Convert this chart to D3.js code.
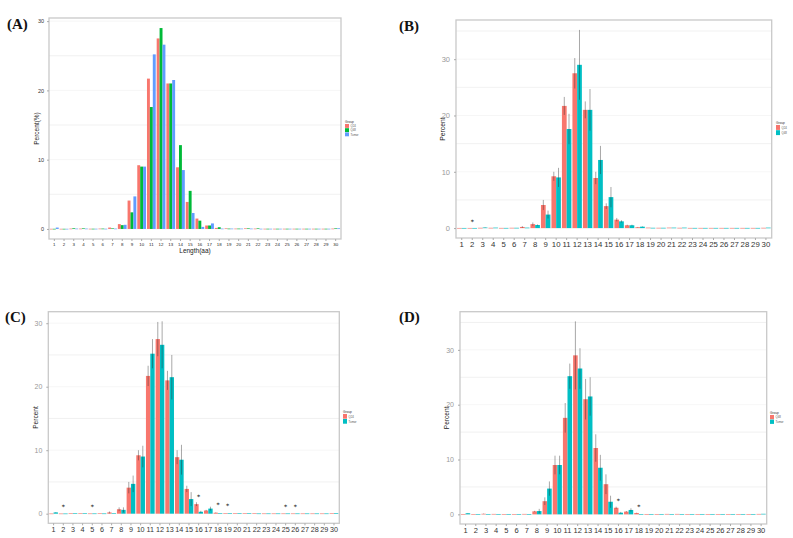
<!DOCTYPE html>
<html><head><meta charset="utf-8">
<script src="https://cdn.jsdelivr.net/npm/d3@7"></script>
<style>body{margin:0;background:#fff}svg{display:block}</style>
</head><body>
<script>
const categories = ["1","2","3","4","5","6","7","8","9","10","11","12","13","14","15","16","17","18","19","20","21","22","23","24","25","26","27","28","29","30"];
const yTicks = [0,10,20,30];
const minorTicks = [5,15,25,35];

const q24 = [0.02,0.02,0.05,0.05,0.03,0.05,0.2,0.7,4.1,9.2,21.7,27.5,21.0,8.9,3.9,1.5,0.5,0.15,0.08,0.05,0.08,0.05,0.03,0.03,0.03,0.03,0.03,0.03,0.03,0.05];
const q48 = [0.02,0.02,0.1,0.08,0.03,0.05,0.08,0.55,2.4,9.0,17.6,29.0,21.0,12.1,5.5,1.2,0.5,0.25,0.05,0.05,0.08,0.08,0.03,0.03,0.03,0.03,0.03,0.03,0.03,0.08];
const tumor = [0.2,0.02,0.05,0.05,0.03,0.03,0.05,0.6,4.7,9.0,25.2,26.6,21.5,8.5,2.3,0.3,0.8,0.05,0.05,0.05,0.05,0.03,0.03,0.03,0.03,0.03,0.03,0.03,0.03,0.1];

const q24sd = [0,0,0,0,0,0,0.15,0.3,0.9,0.8,1.6,2.7,1.5,1.1,0.5,0.3,0.1,0.05,0,0,0,0,0,0,0,0,0,0,0,0];
const q48sd = [0,0,0.05,0,0,0,0,0.1,0.7,1.7,2.7,6.2,3.7,2.5,1.8,0.2,0.1,0.05,0,0,0,0,0,0,0,0,0,0,0,0];
const tumorsd = [0.05,0,0,0,0,0,0,0.4,1.3,1.7,2.3,3.7,3.5,2.35,1.1,0.15,0.3,0,0,0,0,0,0,0,0,0,0,0,0,0];

const starsB = [{cat:"2", y:1.2}];
const starsC = [{cat:"2", y:1.2},{cat:"5", y:1.2},{cat:"16", y:2.8},{cat:"18", y:1.45},{cat:"19", y:1.3},{cat:"25", y:1.2},{cat:"26", y:1.2}];
const starsD = [{cat:"16", y:2.6},{cat:"18", y:1.5}];

const RED="#F8766D", GREEN="#00BA38", BLUE="#619CFF", TEAL="#00BFC4";

const svg = d3.select("body").append("svg").attr("width",793).attr("height",538);

function panel(o){
  const g = svg.append("g");
  const keys = o.series.map(s=>s.name);
  let maxV = 0;
  o.series.forEach(s=>s.values.forEach((v,i)=>{ maxV=Math.max(maxV, v + (s.sd? s.sd[i]:0)); }));
  const pad = maxV*0.05;
  const y = d3.scaleLinear().domain([-pad, maxV+pad]).range([o.y1, o.y0]);
  const unitW = (o.x1-o.x0)/(categories.length-1+1.2);
  const x = d3.scaleBand().domain(categories)
     .range([o.x0+unitW*0.1, o.x1-unitW*0.1]).paddingInner(0.1).paddingOuter(0);
  const xs = d3.scaleBand().domain(keys).range([0, x.bandwidth()]);
  g.selectAll(".mi").data(minorTicks.filter(t=>t<maxV+pad)).join("line")
    .attr("x1",o.x0).attr("x2",o.x1).attr("y1",d=>y(d)).attr("y2",d=>y(d))
    .attr("stroke","#eeeeee").attr("stroke-width",0.8);
  g.selectAll(".ma").data(yTicks).join("line")
    .attr("x1",o.x0).attr("x2",o.x1).attr("y1",d=>y(d)).attr("y2",d=>y(d))
    .attr("stroke","#f4f4f4").attr("stroke-width",0.8);
  o.series.forEach(s=>{
    g.append("g").selectAll("rect").data(s.values.map((v,i)=>({c:categories[i],v}))).join("rect")
      .attr("x",d=>x(d.c)+xs(s.name)).attr("width",xs.bandwidth())
      .attr("y",d=>y(d.v)).attr("height",d=>Math.max(0.6,y(0)-y(d.v)))
      .attr("fill",s.color);
  });
  o.series.forEach(s=>{
    if(!s.sd) return;
    g.append("g").selectAll("line").data(s.values.map((v,i)=>({c:categories[i],v,e:s.sd[i]})).filter(d=>d.e>0)).join("line")
      .attr("x1",d=>x(d.c)+xs(s.name)+xs.bandwidth()/2).attr("x2",d=>x(d.c)+xs(s.name)+xs.bandwidth()/2)
      .attr("y1",d=>y(d.v-d.e)).attr("y2",d=>y(d.v+d.e))
      .attr("stroke","rgba(40,40,40,0.45)").attr("stroke-width",0.9);
  });
  if(o.stars){
    g.selectAll(".st").data(o.stars).join("text")
      .attr("x",d=>x(d.cat)+x.bandwidth()/2).attr("y",d=>y(d.y)+2.8)
      .attr("text-anchor","middle").attr("font-size",6).attr("font-weight","bold").attr("font-family","DejaVu Sans")
      .attr("fill","#333").text("*");
  }
  g.append("rect").attr("x",o.x0).attr("y",o.y0).attr("width",o.x1-o.x0).attr("height",o.y1-o.y0)
    .attr("fill","none").attr("stroke","#c9c9c9").attr("stroke-width",1.3);
  const xa = g.append("g").attr("transform",`translate(0,${o.y1})`)
    .call(d3.axisBottom(x).tickSize(2).tickPadding(1.5));
  xa.select(".domain").remove();
  xa.selectAll("line").attr("stroke","#aaa");
  xa.selectAll("text").attr("font-size",o.xFont).attr("font-family","Liberation Sans, Arial").attr("fill",o.xColor);
  const ya = g.append("g").attr("transform",`translate(${o.x0},0)`)
    .call(d3.axisLeft(y).tickValues(yTicks).tickSize(2).tickPadding(o.yPad));
  ya.select(".domain").remove();
  ya.selectAll("line").attr("stroke","#aaa");
  ya.selectAll("text").attr("font-size",o.yFont).attr("font-family","Liberation Sans, Arial").attr("fill",o.yColor);
  g.append("text").attr("transform",`translate(${o.ytX},${(o.y0+o.y1)/2}) rotate(-90)`)
    .attr("text-anchor","middle").attr("font-size",o.ytFont).attr("font-family","Liberation Sans, Arial")
    .attr("fill","#222").text(o.yTitle);
  if(o.xTitle){
    g.append("text").attr("x",(o.x0+o.x1)/2).attr("y",o.y1+o.xtDy)
      .attr("text-anchor","middle").attr("font-size",o.xtFont).attr("font-family","Liberation Sans, Arial")
      .attr("fill","#222").text(o.xTitle);
  }
  const lg = g.append("g").attr("transform",`translate(${o.lx},${o.ly})`);
  lg.append("text").attr("x",0).attr("y",-1).attr("font-size",3.2).attr("font-family","Liberation Sans, Arial").attr("fill","#333").text("Group");
  o.series.forEach((s,i)=>{
    lg.append("rect").attr("x",0).attr("y",i*o.lh).attr("width",4).attr("height",o.lh-0.3).attr("fill",s.color);
    lg.append("text").attr("x",5.5).attr("y",i*o.lh+o.lh*0.75).attr("font-size",2.8)
      .attr("font-family","Liberation Sans, Arial").attr("fill","#555").text(s.name);
  });
  svg.append("text").attr("x",o.lbX).attr("y",o.lbY).attr("font-size",15).attr("font-weight","bold")
    .attr("font-family","Liberation Serif, Times New Roman, serif").attr("fill","#111").text(o.label);
}

panel({label:"(A)", lbX:7, lbY:29, x0:49, x1:341, y0:18, y1:239,
  series:[{name:"Q24",values:q24,color:RED},{name:"Q48",values:q48,color:GREEN},{name:"Tumor",values:tumor,color:BLUE}],
  xFont:4.4, xColor:"#222", yFont:5.5, yColor:"#333", yPad:3,
  yTitle:"Percent(%)", ytX:39, ytFont:6.5, xTitle:"Length(aa)", xtDy:13.5, xtFont:6.5,
  lx:345, ly:124, lh:4.2});

panel({label:"(B)", lbX:399, lbY:31, x0:456, x1:771.7, y0:20, y1:238,
  series:[{name:"Q24",values:q24,sd:q24sd,color:RED},{name:"Q48",values:q48,sd:q48sd,color:TEAL}],
  stars:starsB,
  xFont:7.8, xColor:"#333", yFont:7.5, yColor:"#999", yPad:4,
  yTitle:"Percent", ytX:445, ytFont:6.8,
  lx:776, ly:125, lh:5.2});

panel({label:"(C)", lbX:5, lbY:322, x0:48.3, x1:339.3, y0:311.7, y1:523.3,
  series:[{name:"Q24",values:q24,sd:q24sd,color:RED},{name:"Tumor",values:tumor,sd:tumorsd,color:TEAL}],
  stars:starsC,
  xFont:7.2, xColor:"#333", yFont:7, yColor:"#999", yPad:4,
  yTitle:"Percent", ytX:38, ytFont:6.6,
  lx:343, ly:414, lh:5});

panel({label:"(D)", lbX:399, lbY:322, x0:460, x1:766.7, y0:311.7, y1:524,
  series:[{name:"Q48",values:q48,sd:q48sd,color:RED},{name:"Tumor",values:tumor,sd:tumorsd,color:TEAL}],
  stars:starsD,
  xFont:7.5, xColor:"#333", yFont:7, yColor:"#999", yPad:4,
  yTitle:"Percent", ytX:449, ytFont:6.6,
  lx:770, ly:415, lh:4.6});
</script>
</body></html>
